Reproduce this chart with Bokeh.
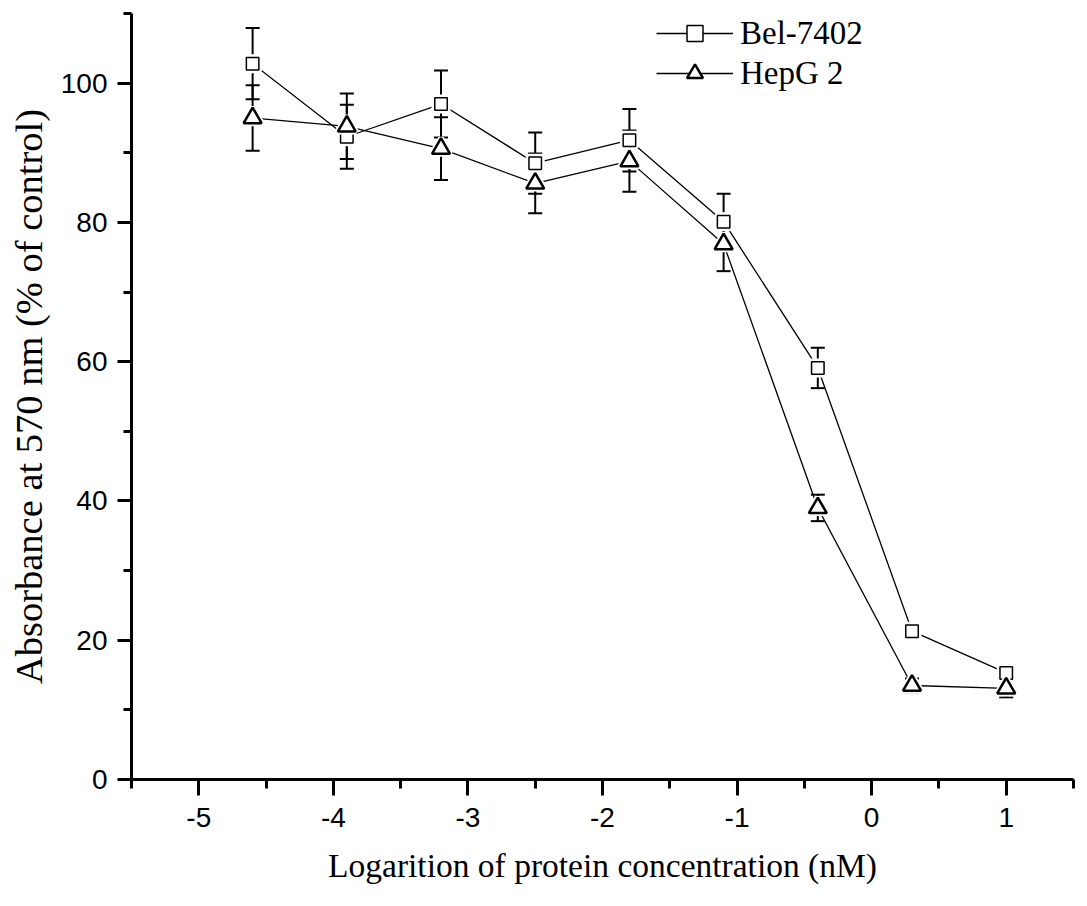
from bokeh.plotting import figure
from bokeh.models import (ColumnDataSource, Range1d, FixedTicker, Whisker, TeeHead,
                          Legend, LegendItem, CustomJSTickFormatter)
from bokeh.embed import file_html
from bokeh.resources import INLINE

# log10 of protein concentration (nM)
conc = [-4.6, -3.9, -3.2, -2.5, -1.8, -1.1, -0.4, 0.3, 1.0]

# absorbance at 570 nm, % of control
bel = [102.8, 92.3, 97.0, 88.5, 91.8, 80.1, 59.1, 21.3, 15.3]
bel_err = [5.1, 4.6, 4.8, 4.4, 4.5, 4.0, 2.9, 1.0, 0.8]
hep = [95.0, 93.8, 90.6, 85.6, 88.8, 76.9, 39.0, 13.5, 13.1]
hep_err = [4.7, 4.7, 4.5, 4.3, 4.4, 3.9, 1.9, 1.0, 1.3]

x_ticks = [-5, -4, -3, -2, -1, 0, 1]
x_minor = [-5.5, -4.5, -3.5, -2.5, -1.5, -0.5, 0.5, 1.5]
y_ticks = [0, 20, 40, 60, 80, 100]
y_minor = [10, 30, 50, 70, 90, 110]

SANS = "Liberation Sans"
SERIF = "Liberation Serif"


def make_source(y, err):
    return ColumnDataSource(data=dict(
        x=conc, y=y,
        lower=[v - e for v, e in zip(y, err)],
        upper=[v + e for v, e in zip(y, err)]))


bel_src = make_source(bel, bel_err)
hep_src = make_source(hep, hep_err)

p = figure(width=1085, height=900, output_backend="svg", toolbar_location=None,
           x_range=Range1d(-5.5, 1.5), y_range=Range1d(0, 110),
           min_border_left=131, min_border_right=12,
           min_border_top=13, min_border_bottom=121)
p.outline_line_color = None
p.xgrid.grid_line_color = None
p.ygrid.grid_line_color = None
p.background_fill_color = "white"

# connecting lines
bel_line = p.line("x", "y", source=bel_src, line_color="black", line_width=1.3)
hep_line = p.line("x", "y", source=hep_src, line_color="black", line_width=1.3)

# error bars
for src in (bel_src, hep_src):
    w = Whisker(base="x", lower="lower", upper="upper", source=src,
                dimension="height", line_color="black", line_width=2,
                upper_head=TeeHead(size=14, line_width=2, line_color="black"),
                lower_head=TeeHead(size=14, line_width=2, line_color="black"))
    p.add_layout(w)

# white halos so lines stop short of the markers
p.scatter("x", "y", source=bel_src, marker="square", size=13,
          fill_color="white", line_color="white", line_width=6)
bel_mark = p.scatter("x", "y", source=bel_src, marker="square", size=12.5,
                     fill_color="white", line_color="black", line_width=1.5)
p.scatter("x", "y", source=hep_src, marker="triangle", size=18,
          fill_color="white", line_color="white", line_width=6)
hep_mark = p.scatter("x", "y", source=hep_src, marker="triangle", size=18,
                     fill_color="white", line_color="black", line_width=2.5)

# axes
fmt = CustomJSTickFormatter(code="return tick.toString();")
p.xaxis.ticker = FixedTicker(ticks=x_ticks, minor_ticks=x_minor)
p.yaxis.ticker = FixedTicker(ticks=y_ticks, minor_ticks=y_minor)
p.xaxis.formatter = fmt
p.yaxis.formatter = fmt
for ax in (p.xaxis, p.yaxis):
    ax.axis_line_width = 3
    ax.axis_line_color = "black"
    ax.major_tick_line_width = 3
    ax.minor_tick_line_width = 3
    ax.major_tick_line_color = "black"
    ax.minor_tick_line_color = "black"
    ax.major_tick_in = 0
    ax.minor_tick_in = 0
    ax.major_label_text_font = SANS
    ax.major_label_text_font_size = "28px"
    ax.major_label_text_color = "black"
    ax.axis_label_text_font = SERIF
    ax.axis_label_text_font_style = "normal"
    ax.axis_label_text_color = "black"

p.xaxis.major_tick_out = 16
p.xaxis.minor_tick_out = 9
p.yaxis.major_tick_out = 14
p.yaxis.minor_tick_out = 8
p.xaxis.major_label_standoff = 12
p.yaxis.major_label_standoff = 10
p.xaxis.axis_label = "Logarition of protein concentration (nM)"
p.yaxis.axis_label = "Absorbance at 570 nm (% of control)"
p.xaxis.axis_label_text_font_size = "33.5px"
p.yaxis.axis_label_text_font_size = "38.5px"
p.xaxis.axis_label_standoff = 17
p.yaxis.axis_label_standoff = 8

legend = Legend(items=[
    LegendItem(label="Bel-7402", renderers=[bel_line, bel_mark]),
    LegendItem(label="HepG 2", renderers=[hep_line, hep_mark]),
], location=(525, 686))
legend.border_line_color = None
legend.background_fill_alpha = 0
legend.padding = 0
legend.margin = 0
legend.spacing = 0
legend.glyph_width = 77
legend.glyph_height = 40
legend.label_height = 40
legend.label_standoff = 7
legend.label_text_font = SERIF
legend.label_text_font_size = "33px"
legend.label_text_color = "black"
p.add_layout(legend)

open("out.html", "w").write(file_html(p, INLINE))
